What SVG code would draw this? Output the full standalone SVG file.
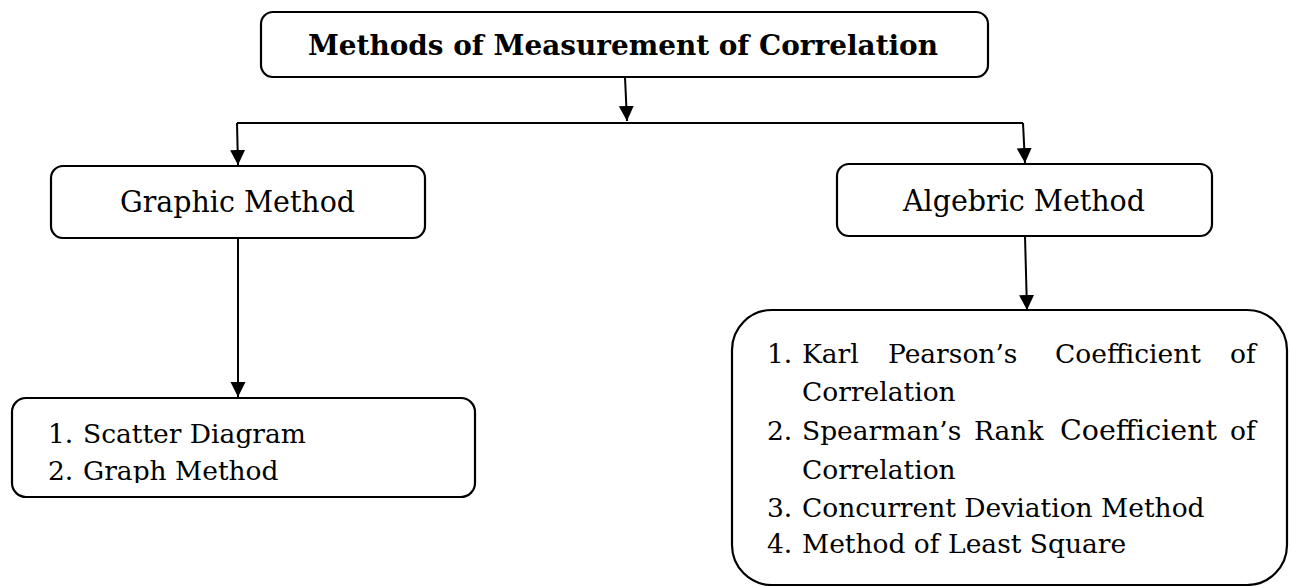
<svg xmlns="http://www.w3.org/2000/svg" width="1292" height="586" viewBox="0 0 1292 586">
<style>
.box{fill:#fff;stroke:#000;stroke-width:2.2}
.t{font-family:"DejaVu Serif","Liberation Serif",serif;fill:#000}
.title{font-weight:bold;font-size:28px}
.h{font-size:30px}
.li{font-size:26.5px}
.c{fill:none;stroke:#000;stroke-width:2}
</style>
<defs>
<marker id="ah" markerUnits="userSpaceOnUse" markerWidth="16" markerHeight="16" refX="15" refY="8" orient="auto">
<path d="M0,0.5 L15,8 L0,15.5 z" fill="#000"/>
</marker>
<clipPath id="clipS"><rect x="12" y="398" width="463" height="85"/></clipPath>
</defs>
<rect width="1292" height="586" fill="#fff"/>
<g id="connectors">
<line class="c" x1="625" y1="77" x2="627" y2="121" marker-end="url(#ah)"/>
<line class="c" x1="237" y1="123" x2="1023" y2="123"/>
<line class="c" x1="237" y1="123" x2="238" y2="165" marker-end="url(#ah)"/>
<line class="c" x1="1023" y1="123" x2="1025" y2="163" marker-end="url(#ah)"/>
<line class="c" x1="238" y1="238" x2="238" y2="397" marker-end="url(#ah)"/>
<line class="c" x1="1025" y1="236" x2="1027" y2="310" marker-end="url(#ah)"/>
</g>
<g id="root">
<rect class="box" x="261" y="12" width="727" height="65" rx="12"/>
<text class="t title" x="308" y="55" textLength="630" lengthAdjust="spacingAndGlyphs">Methods of Measurement of Correlation</text>
</g>
<g id="graphic">
<rect class="box" x="51" y="166" width="374" height="72" rx="12"/>
<text class="t h" x="120" y="212" textLength="235" lengthAdjust="spacingAndGlyphs">Graphic Method</text>
</g>
<g id="algebric">
<rect class="box" x="837" y="164" width="375" height="72" rx="12"/>
<text class="t h" x="903" y="211" textLength="242" lengthAdjust="spacingAndGlyphs">Algebric Method</text>
</g>
<g id="graphic-list">
<rect class="box" x="12" y="398" width="463" height="99" rx="14"/>
<g clip-path="url(#clipS)">
<text class="t li" x="48" y="443">1.</text>
<text class="t li" x="83" y="443">Scatter Diagram</text>
<text class="t li" x="48" y="480">2.</text>
<text class="t li" x="83" y="480">Graph Method</text>
</g>
</g>
<g id="algebric-list">
<rect class="box" x="732" y="310" width="555" height="275" rx="40"/>
<text class="t li" x="767" y="363">1.</text>
<text class="t li" x="802" y="363">Karl</text>
<text class="t li" x="888" y="363">Pearson’s</text>
<text class="t li" x="1055" y="363">Coefficient</text>
<text class="t li" x="1230" y="363">of</text>
<text class="t li" x="802" y="401">Correlation</text>
<text class="t li" x="767" y="440">2.</text>
<text class="t li" x="802" y="440">Spearman’s</text>
<text class="t li" x="974" y="440">Rank</text>
<text class="t li" x="1060" y="440" style="font-size:28.5px">Coefficient</text>
<text class="t li" x="1230" y="440">of</text>
<text class="t li" x="802" y="479">Correlation</text>
<text class="t li" x="767" y="517">3.</text>
<text class="t li" x="802" y="517">Concurrent Deviation Method</text>
<text class="t li" x="767" y="553">4.</text>
<text class="t li" x="802" y="553">Method of Least Square</text>
</g>
</svg>
